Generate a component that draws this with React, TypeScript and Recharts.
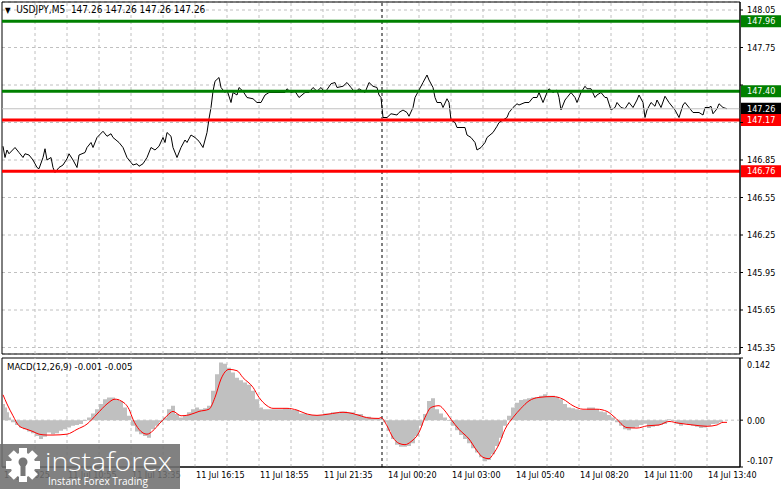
import React from 'react'
import {
  ComposedChart, Line, Area, XAxis, YAxis, CartesianGrid, ReferenceLine, ReferenceArea,
} from 'recharts'

const FONT = "'DejaVu Sans Condensed', 'Liberation Sans', sans-serif"

// USDJPY M5 closes, bar index counted from the left edge of the window
const priceBars = [
  0, 1, 2, 3, 6, 8, 10, 11, 13, 15, 17, 18, 20, 21, 22, 24, 25, 26, 28, 30,
  32, 33, 35, 37, 38, 41, 42, 44, 45, 47, 50, 52, 54, 55, 58, 60, 62, 64, 65, 67,
  68, 70, 72, 74, 76, 78, 80, 81, 82, 84, 85, 87, 89, 91, 92, 94, 96, 98, 100, 102,
  103, 104, 105, 106, 108, 109, 111, 112, 114, 115, 117, 118, 120, 122, 125, 127, 129, 131, 133, 136,
  138, 141, 142, 144, 146, 148, 151, 153, 155, 157, 159, 161, 164, 166, 167, 170, 172, 174, 176, 178,
  181, 183, 185, 187, 188, 189, 190, 191, 192, 194, 197, 198, 200, 202, 203, 205, 206, 208, 210, 212,
  213, 215, 216, 217, 219, 220, 222, 223, 224, 226, 227, 229, 231, 232, 234, 236, 237, 239, 241, 242,
  245, 247, 248, 250, 252, 253, 255, 257, 258, 261, 263, 265, 267, 268, 270, 272, 273, 275, 277, 278,
  279, 281, 282, 284, 286, 287, 289, 291, 292, 294, 296, 297, 299, 301, 302, 304, 306, 307, 309, 311,
  313, 315, 317, 318, 320, 321, 322, 324, 326, 327, 329, 331, 333, 335, 336, 338, 340, 341, 343, 345,
  347, 348, 350, 351, 353, 354, 355, 357, 358, 360, 362,
]
const prices = [
  146.96, 146.87, 146.93, 146.90, 146.95, 146.91, 146.87, 146.90, 146.89, 146.85, 146.79, 146.78, 146.87, 146.94, 146.85, 146.87, 146.79, 146.75, 146.79, 146.81,
  146.86, 146.90, 146.85, 146.79, 146.89, 146.91, 146.95, 146.99, 146.95, 147.03, 147.08, 147.04, 147.06, 147.03, 146.99, 146.95, 146.87, 146.83, 146.81, 146.82,
  146.80, 146.82, 146.87, 146.95, 146.93, 146.96, 147.03, 146.99, 147.07, 147.04, 146.95, 146.87, 146.95, 147.01, 146.99, 147.05, 147.03, 147.00, 146.95, 147.07,
  147.18, 147.27, 147.40, 147.48, 147.51, 147.43, 147.39, 147.41, 147.31, 147.39, 147.37, 147.43, 147.40, 147.35, 147.34, 147.31, 147.31, 147.37, 147.39, 147.39,
  147.39, 147.39, 147.42, 147.39, 147.40, 147.35, 147.39, 147.39, 147.43, 147.40, 147.43, 147.39, 147.46, 147.47, 147.43, 147.44, 147.47, 147.43, 147.39, 147.42,
  147.39, 147.47, 147.44, 147.43, 147.37, 147.35, 147.19, 147.19, 147.19, 147.22, 147.21, 147.23, 147.25, 147.23, 147.20, 147.27, 147.35, 147.41, 147.47, 147.53,
  147.49, 147.43, 147.35, 147.31, 147.31, 147.27, 147.34, 147.31, 147.17, 147.15, 147.11, 147.11, 147.11, 147.05, 147.03, 146.99, 146.93, 146.95, 146.99, 147.03,
  147.07, 147.12, 147.15, 147.17, 147.19, 147.23, 147.27, 147.30, 147.29, 147.31, 147.31, 147.35, 147.35, 147.39, 147.31, 147.39, 147.42, 147.39, 147.41, 147.35,
  147.25, 147.33, 147.35, 147.39, 147.35, 147.31, 147.39, 147.44, 147.42, 147.42, 147.35, 147.37, 147.39, 147.35, 147.35, 147.25, 147.27, 147.31, 147.27, 147.26,
  147.31, 147.27, 147.33, 147.37, 147.31, 147.19, 147.25, 147.31, 147.28, 147.33, 147.27, 147.36, 147.31, 147.27, 147.25, 147.19, 147.29, 147.31, 147.27, 147.23,
  147.23, 147.23, 147.21, 147.27, 147.27, 147.28, 147.22, 147.26, 147.30, 147.27, 147.26,
]

// MACD(12,26,9): main value drawn as histogram, signal as red line
const histBars = [
  0, 1, 2, 3, 4, 6, 8, 10, 12, 14, 16, 18, 20, 22, 24, 26, 28, 30, 32, 34,
  36, 38, 40, 42, 44, 46, 48, 50, 52, 54, 56, 58, 60, 62, 64, 66, 68, 70, 72, 74,
  76, 78, 80, 82, 84, 86, 88, 90, 92, 94, 96, 98, 100, 102, 104, 106, 108, 110, 112, 114,
  116, 118, 120, 122, 124, 126, 128, 130, 132, 136, 140, 144, 148, 152, 156, 160, 164, 168, 172, 176,
  180, 184, 188, 190, 192, 194, 196, 198, 200, 202, 204, 206, 208, 210, 212, 214, 216, 218, 220, 222,
  224, 226, 228, 230, 232, 234, 236, 238, 240, 242, 244, 246, 248, 250, 252, 254, 256, 258, 260, 262,
  264, 266, 268, 270, 272, 274, 276, 278, 280, 282, 284, 286, 288, 290, 292, 294, 296, 298, 300, 302,
  304, 306, 308, 310, 312, 314, 316, 318, 320, 322, 324, 326, 328, 330, 332, 334, 336, 338, 340, 342,
  344, 346, 348, 350, 352, 354, 356, 358, 360, 362,
]
const histValues = [
  0.037, 0.029, 0.018, 0.006, -0.005, -0.011, -0.017, -0.021, -0.026, -0.030, -0.036, -0.043, -0.038, -0.028, -0.032, -0.030, -0.024, -0.021, -0.017, -0.013,
  -0.011, -0.009, -0.002, 0.006, 0.015, 0.025, 0.037, 0.048, 0.052, 0.052, 0.048, 0.044, 0.029, 0.010, -0.013, -0.026, -0.032, -0.036, -0.040, -0.021,
  -0.013, -0.005, 0.006, 0.025, 0.033, 0.014, 0.006, 0.010, 0.018, 0.025, 0.029, 0.025, 0.027, 0.033, 0.067, 0.105, 0.132, 0.129, 0.120, 0.109,
  0.097, 0.091, 0.086, 0.081, 0.067, 0.048, 0.029, 0.025, 0.025, 0.025, 0.027, 0.023, 0.015, 0.012, 0.012, 0.015, 0.018, 0.020, 0.018, 0.014,
  0.008, 0.005, 0.004, -0.005, -0.024, -0.043, -0.056, -0.061, -0.061, -0.059, -0.053, -0.036, -0.013, 0.014, 0.044, 0.050, 0.025, 0.015, 0.006, -0.002,
  -0.013, -0.023, -0.034, -0.043, -0.053, -0.064, -0.074, -0.085, -0.094, -0.091, -0.078, -0.059, -0.040, -0.013, 0.010, 0.029, 0.040, 0.046, 0.048, 0.050,
  0.052, 0.053, 0.056, 0.059, 0.056, 0.056, 0.053, 0.048, 0.037, 0.029, 0.027, 0.025, 0.023, 0.023, 0.029, 0.029, 0.025, 0.020, 0.018, 0.012,
  0.006, -0.005, -0.013, -0.021, -0.023, -0.018, -0.015, -0.011, -0.008, -0.018, -0.015, -0.013, -0.011, -0.009, 0.002, -0.002, -0.008, -0.013, -0.008, -0.011,
  -0.013, -0.015, -0.018, -0.017, -0.013, -0.009, -0.008, -0.005, 0.000, -0.001,
]
const signalBars = [
  0, 2, 5, 8, 12, 15, 18, 22, 25, 32, 37, 42, 47, 52, 56, 59, 63, 65, 68, 72,
  75, 78, 82, 85, 89, 93, 98, 103, 106, 109, 113, 117, 120, 125, 128, 132, 135, 142, 147, 152,
  157, 163, 170, 175, 178, 183, 188, 189, 192, 195, 198, 201, 204, 208, 211, 214, 218, 221, 224, 228,
  233, 237, 240, 243, 245, 248, 251, 255, 259, 263, 268, 275, 280, 285, 290, 297, 302, 306, 312, 317,
  322, 328, 333, 338, 345, 352, 357, 360, 362,
]
const signalValues = [
  0.058, 0.037, 0.010, -0.013, -0.021, -0.026, -0.032, -0.034, -0.034, -0.032, -0.021, -0.009, 0.014, 0.037, 0.048, 0.044, 0.025, 0.002, -0.021, -0.032,
  -0.024, -0.009, 0.010, 0.020, 0.010, 0.012, 0.020, 0.025, 0.052, 0.094, 0.116, 0.113, 0.097, 0.075, 0.052, 0.033, 0.027, 0.027, 0.023, 0.014,
  0.011, 0.014, 0.018, 0.015, 0.011, 0.005, 0.004, 0.006, -0.013, -0.040, -0.053, -0.056, -0.049, -0.028, 0.006, 0.029, 0.033, 0.021, 0.002, -0.021,
  -0.043, -0.070, -0.085, -0.088, -0.078, -0.055, -0.021, 0.006, 0.027, 0.044, 0.052, 0.054, 0.048, 0.033, 0.025, 0.025, 0.020, 0.006, -0.017, -0.018,
  -0.013, -0.011, -0.003, -0.007, -0.011, -0.014, -0.011, -0.005, -0.005,
]

const priceTicks = [148.05, 147.75, 147.45, 147.15, 146.85, 146.55, 146.25, 145.95, 145.65, 145.35]
const macdTicks = [-0.107, 0, 0.142]
const macdTickLabels = ['-0.107', '0.00', '0.142']
const timeTicks = [0, 32, 64, 96, 128, 160, 192, 224, 256, 288, 320, 352]
const timeLabels = [
  '11 Jul 2025', '11 Jul 10:55', '11 Jul 13:35', '11 Jul 16:15', '11 Jul 18:55', '11 Jul 21:35',
  '14 Jul 00:20', '14 Jul 03:00', '14 Jul 05:40', '14 Jul 08:20', '14 Jul 11:00', '14 Jul 13:40',
]
const gridBars = [16, 32, 48, 64, 80, 96, 112, 128, 144, 160, 176, 192, 208, 224, 240, 256, 272, 288, 304, 320, 336, 352]
const daySeparator = 189.5

const levelPrices = [147.96, 147.40, 147.17, 146.76]
const levelColors = ['#008000', '#008000', '#ff0000', '#ff0000']
const lastPrice = 147.26

const BAR_DOMAIN: [number, number] = [-0.5, 368.5]
const PRICE_DOMAIN: [number, number] = [145.298, 148.114]
const MACD_DOMAIN: [number, number] = [-0.107, 0.142]

const priceData = priceBars.map((bar, i) => ({ bar, price: prices[i] }))

const macdMap = new Map<number, { bar: number; hist?: number; signal?: number }>()
histBars.forEach((bar, i) => macdMap.set(bar, { ...(macdMap.get(bar) ?? { bar }), hist: histValues[i] }))
signalBars.forEach((bar, i) => macdMap.set(bar, { ...(macdMap.get(bar) ?? { bar }), signal: signalValues[i] }))
const macdData = [...macdMap.values()].sort((a, b) => a.bar - b.bar)

// price tag on the right scale, like the terminal draws it
const tag = (text: string, fill: string) => (props: any) => {
  const vb = props.viewBox
  const right = vb.x + vb.width
  return (
    <g>
      <rect x={right + 1} y={vb.y - 6} width={41} height={12} fill={fill} />
      <text x={right + 7} y={vb.y} dy="0.35em" fill="#fff" fontSize={9} fontFamily={FONT}>{text}</text>
    </g>
  )
}

// scale labels that sit under a price tag are covered in the terminal
const tagged = [lastPrice, ...levelPrices]
const PriceTick = (props: any) => {
  const { x, y, payload } = props
  if (tagged.some(p => Math.abs(p - payload.value) < 0.06)) return <g />
  return (
    <text x={x} y={y} dy="0.35em" fontSize={9} fill="#000" fontFamily={FONT}>{payload.value.toFixed(2)}</text>
  )
}

const TimeTick = (props: any) => {
  const { x, y, payload } = props
  const label = timeLabels[timeTicks.indexOf(payload.value)]
  return (
    <text x={x + 1} y={y + 11} fontSize={9} fill="#000" fontFamily={FONT}>{label}</text>
  )
}

const MacdTick = (props: any) => {
  const { x, y, payload } = props
  const i = macdTicks.indexOf(payload.value)
  const shift = payload.value === MACD_DOMAIN[1] ? 7 : payload.value === MACD_DOMAIN[0] ? -6 : 1
  return (
    <text x={x} y={y + shift} dy="0.35em" fontSize={9} fill="#000" fontFamily={FONT}>{macdTickLabels[i]}</text>
  )
}

function Gear() {
  const teeth = [0, 45, 90, 135, 180, 225, 270, 315]
  return (
    <svg width={46} height={45} style={{ position: 'absolute', left: 0, top: 0 }}>
      <g transform="translate(23,21)">
        {teeth.map(a => (
          <rect key={a} x={-4} y={-17} width={8} height={8} fill="#fff" transform={`rotate(${a})`} />
        ))}
        <circle r={12.5} fill="#fff" />
        <circle cy={-3} r={4.5} fill="#777" />
        <rect x={-2.5} y={-1} width={5} height={12} fill="#777" />
      </g>
    </svg>
  )
}

export default function App() {
  return (
    <div style={{ position: 'absolute', left: 0, top: 0, width: 781, height: 489, background: '#fff', overflow: 'hidden', fontFamily: FONT }}>
      <style>{'body{margin:0}'}</style>

      <div style={{ position: 'absolute', left: 0, top: 0 }}>
        <ComposedChart width={781} height={356} data={priceData} margin={{ top: 2, right: 0, bottom: 2, left: 2 }}>
          <CartesianGrid vertical={false} stroke="#c0c0c0" strokeDasharray="3 3" />
          <XAxis dataKey="bar" type="number" domain={BAR_DOMAIN} hide allowDataOverflow />
          <YAxis
            orientation="right" width={41} domain={PRICE_DOMAIN} ticks={priceTicks} interval={0} allowDataOverflow
            tick={PriceTick} tickSize={3} tickMargin={4}
            axisLine={{ stroke: '#000' }} tickLine={{ stroke: '#000' }}
          />
          {gridBars.map(b => <ReferenceLine key={b} x={b} stroke="#c0c0c0" strokeDasharray="3 3" />)}
          <ReferenceLine x={daySeparator} stroke="#000" strokeDasharray="3 3" />
          <Line dataKey="price" type="linear" stroke="#000" strokeWidth={1} dot={false} isAnimationActive={false} />
          <ReferenceLine y={lastPrice} stroke="#c0c0c0" label={tag(lastPrice.toFixed(2), '#000')} />
          {levelPrices.map((p, i) => (
            <ReferenceLine key={p} y={p} stroke={levelColors[i]} strokeWidth={3} label={tag(p.toFixed(2), levelColors[i])} />
          ))}
          <ReferenceArea x1={BAR_DOMAIN[0]} x2={BAR_DOMAIN[1]} y1={PRICE_DOMAIN[0]} y2={PRICE_DOMAIN[1]} fill="none" stroke="#000" />
        </ComposedChart>
      </div>

      <div style={{ position: 'absolute', left: 0, top: 356 }}>
        <ComposedChart width={781} height={133} data={macdData} margin={{ top: 2, right: 0, bottom: 0, left: 2 }}>
          <XAxis
            dataKey="bar" type="number" domain={BAR_DOMAIN} ticks={timeTicks} interval={0} height={22}
            tickLine={false} tickSize={0} tickMargin={0} axisLine={{ stroke: '#000' }} tick={TimeTick} allowDataOverflow
          />
          <YAxis
            orientation="right" width={41} domain={MACD_DOMAIN} ticks={macdTicks} interval={0} allowDataOverflow
            tick={MacdTick} tickSize={3} tickMargin={4} axisLine={{ stroke: '#000' }} tickLine={{ stroke: '#000' }}
          />
          {gridBars.map(b => <ReferenceLine key={b} x={b} stroke="#c0c0c0" strokeDasharray="3 3" />)}
          <ReferenceLine y={0} stroke="#c0c0c0" strokeDasharray="3 3" />
          <ReferenceLine x={daySeparator} stroke="#000" strokeDasharray="3 3" />
          <Area dataKey="hist" type="stepAfter" baseValue={0} fill="#c0c0c0" fillOpacity={1} stroke="none" connectNulls isAnimationActive={false} />
          <Line dataKey="signal" type="monotone" stroke="#ff0000" strokeWidth={1} dot={false} connectNulls isAnimationActive={false} />
          <ReferenceArea x1={BAR_DOMAIN[0]} x2={BAR_DOMAIN[1]} y1={MACD_DOMAIN[0]} y2={MACD_DOMAIN[1]} fill="none" stroke="#000" />
        </ComposedChart>
      </div>

      <div style={{ position: 'absolute', left: 5, top: 4, fontSize: 10, lineHeight: '12px', color: '#000', whiteSpace: 'pre' }}>
        <span style={{ fontSize: 8 }}>▼</span>{'  USDJPY,M5  147.26 147.26 147.26 147.26'}
      </div>
      <div style={{ position: 'absolute', left: 7, top: 361, fontSize: 9.5, lineHeight: '12px', color: '#000', whiteSpace: 'pre' }}>
        MACD(12,26,9) -0.001 -0.005
      </div>

      <div style={{ position: 'absolute', left: 0, top: 444, width: 180, height: 45, background: 'rgba(112,112,112,0.88)' }}>
        <Gear />
        <svg width={180} height={45} style={{ position: 'absolute', left: 0, top: 0 }}>
          <text x={45} y={27} fontSize={26} fill="#fff" fontFamily="'Open Sans', sans-serif" fontWeight={300} textLength={127} lengthAdjust="spacingAndGlyphs">instaforex</text>
          <text x={48} y={41} fontSize={11.5} fill="#fff" fontFamily="'Open Sans', sans-serif" textLength={100} lengthAdjust="spacingAndGlyphs">Instant Forex Trading</text>
        </svg>
      </div>
    </div>
  )
}
